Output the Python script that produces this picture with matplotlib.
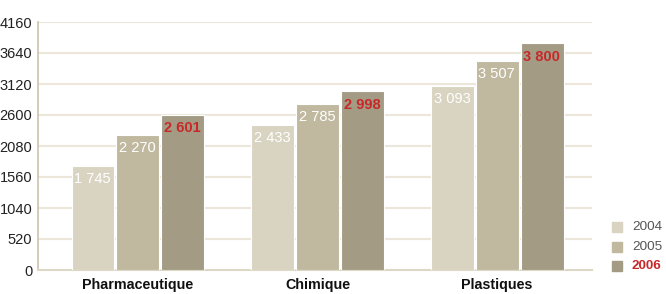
import matplotlib
matplotlib.use("Agg")
import matplotlib.pyplot as plt
from matplotlib.patches import Rectangle
import numpy as np

categories = ["Pharmaceutique", "Chimique", "Plastiques"]
years = ["2004", "2005", "2006"]
v2004 = [1745, 2433, 3093]
v2005 = [2270, 2785, 3507]
v2006 = [2601, 2998, 3800]
yticks = [0, 520, 1040, 1560, 2080, 2600, 3120, 3640, 4160]

colors = ["#d9d3c1", "#c0b9a0", "#a39b84"]
red = "#c8282a"
plt.rcParams['font.family'] = ['Liberation Sans', 'DejaVu Sans']
narrow = ['Liberation Sans Narrow', 'Liberation Sans', 'DejaVu Sans']

fig = plt.figure(figsize=(6.66, 2.94), dpi=100)
ax = fig.add_axes([38/666, 24/294, 554/666, 248/294])

x = np.arange(len(categories))
w = 0.239
offs = [-0.25, 0, 0.25]
series = [v2004, v2005, v2006]
for i, (vals, c) in enumerate(zip(series, colors)):
    bars = ax.bar(x + offs[i], vals, width=w, color=c, edgecolor="white",
                  linewidth=0.8, zorder=3)
    for b, v in zip(bars, vals):
        lab = f"{v:,}".replace(",", " ")
        if i == 2:
            ax.annotate(lab, (b.get_x(), v), xytext=(2.0, -4.5), textcoords="offset points",
                        ha="left", va="top", color=red, fontsize=10.5, fontweight="bold", zorder=4)
        else:
            ax.annotate(lab, (b.get_x(), v), xytext=(2.0, -4.5), textcoords="offset points",
                        ha="left", va="top", color="white", fontsize=10.5, zorder=4)

ax.set_xlim(-0.556, 2.528)
ax.set_ylim(0, 4160)
ax.set_yticks(yticks)
ax.set_yticklabels([str(t) for t in yticks], fontsize=10.5, color="#222222", family=narrow)
ax.set_xticks(x)
ax.set_xticklabels(categories, fontsize=10.3, fontweight="bold", color="#111111")
ax.tick_params(axis="y", length=0, pad=4)
ax.tick_params(axis="x", length=0, pad=6)
for t in yticks[1:]:
    ax.axhline(t, color="#ece7da", linewidth=1.5, zorder=1)
for s in ["top", "right"]:
    ax.spines[s].set_visible(False)
ax.spines["left"].set_color("#cbc3ab")
ax.spines["left"].set_linewidth(1.2)
ax.spines["bottom"].set_color("#ddd7c6")
ax.spines["bottom"].set_linewidth(1.5)

# legend
leg_items = [("2004", 227, "#555555", "normal"), ("2005", 247, "#555555", "normal"),
             ("2006", 266, red, "bold")]
for (lab, yp, tc, fw), c in zip(leg_items, colors):
    fig.add_artist(Rectangle((612/666, (294-yp-5)/294), 10/666, 10/294,
                             transform=fig.transFigure, color=c))
    fig.text(632/666, (294-yp)/294, lab, fontsize=9.7, color=tc, fontweight=fw,
             va="center", ha="left")

fig.savefig("out.png", dpi=100)
